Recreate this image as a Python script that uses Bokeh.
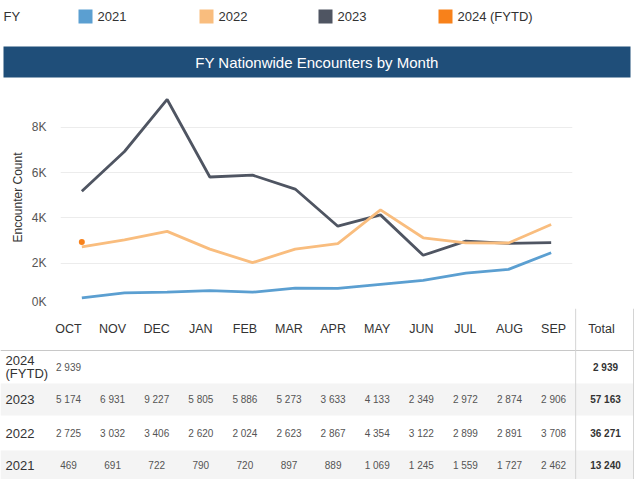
from bokeh.plotting import figure
from bokeh.models import Range1d, FixedTicker, ColumnDataSource
from bokeh.core.properties import value
from bokeh.embed import file_html
from bokeh.resources import INLINE

# ---- data -------------------------------------------------------------
months = ["OCT", "NOV", "DEC", "JAN", "FEB", "MAR", "APR", "MAY", "JUN", "JUL", "AUG", "SEP"]
fy2021 = [469, 691, 722, 790, 720, 897, 889, 1069, 1245, 1559, 1727, 2462]
fy2022 = [2725, 3032, 3406, 2620, 2024, 2623, 2867, 4354, 3122, 2899, 2891, 3708]
fy2023 = [5174, 6931, 9227, 5805, 5886, 5273, 3633, 4133, 2349, 2972, 2874, 2906]
fy2024 = [2939]

series_names = ["2021", "2022", "2023", "2024 (FYTD)"]
colors = {"2021": "#5b9fd1", "2022": "#f9bd7e", "2023": "#4f5562", "2024 (FYTD)": "#f8811a"}
y_ticks = [0, 2000, 4000, 6000, 8000]
y_tick_labels = ["0K", "2K", "4K", "6K", "8K"]

FONT = value("Liberation Sans")
W = 639


def fmt(v):
    return f"{v:,}".replace(",", " ")


def bare(fig):
    fig.xgrid.visible = False
    fig.ygrid.visible = False
    fig.outline_line_color = None
    return fig


# ---- header: legend + title bar ----------------------------------------
hdr_h = 82
hdr = figure(width=W, height=hdr_h, x_range=Range1d(0, W), y_range=Range1d(hdr_h, 0),
             output_backend="svg", toolbar_location=None, min_border=0,
             x_axis_location=None, y_axis_location=None)
bare(hdr)

hdr.text(x=[3], y=[16], text=["FY"], text_font=FONT, text_font_size="13px",
         text_color="#333333", text_baseline="middle")
legend_x = [78, 199, 318, 438]
hdr.rect(x=[lx + 7 for lx in legend_x], y=[16] * 4, width=14, height=14,
         fill_color=[colors[n] for n in series_names], line_color=None)
hdr.text(x=[lx + 19 for lx in legend_x], y=[16] * 4, text=series_names, text_font=FONT,
         text_font_size="13px", text_color="#333333", text_baseline="middle")

hdr.quad(left=[3], right=[630], top=[46], bottom=[77], fill_color="#1f4e79", line_color=None)
hdr.text(x=[316.5], y=[62], text=["FY Nationwide Encounters by Month"], text_font=FONT,
         text_font_size="15px", text_color="white", text_align="center", text_baseline="middle")

# ---- line chart ---------------------------------------------------------
xs = list(range(len(months)))
chart_h, chart_top, y_max = 226, 4, 9800
chart = figure(width=W, height=chart_h, x_range=Range1d(-0.5, len(months) - 0.5),
               y_range=Range1d(0, y_max), output_backend="svg", toolbar_location=None,
               min_border_left=60, min_border_right=67, min_border_top=chart_top, min_border_bottom=0)
chart.xaxis.visible = False
chart.outline_line_color = None
chart.xgrid.visible = False
chart.ygrid.ticker = FixedTicker(ticks=y_ticks)
chart.ygrid.grid_line_color = "#ececec"

# the zero label sits a few pixels above the bottom edge so it stays inside the canvas
units_per_px = y_max / (chart_h - chart_top)
zero_label_pos = 7 * units_per_px
label_pos = [zero_label_pos] + y_ticks[1:]

ax = chart.yaxis[0]
ax.ticker = FixedTicker(ticks=label_pos)
ax.major_label_overrides = {t: l for t, l in zip(label_pos, y_tick_labels)}
ax.axis_line_color = None
ax.major_tick_line_color = None
ax.minor_tick_line_color = None
ax.major_label_standoff = 8
ax.major_label_text_font = "Liberation Sans"
ax.major_label_text_font_size = "12px"
ax.major_label_text_color = "#555555"
ax.axis_label = "Encounter Count"
ax.axis_label_text_font = "Liberation Sans"
ax.axis_label_text_font_size = "12px"
ax.axis_label_text_font_style = "normal"
ax.axis_label_text_color = "#333333"
ax.axis_label_standoff = 4

for name, vals in [("2023", fy2023), ("2022", fy2022), ("2021", fy2021)]:
    chart.line(xs, vals, line_color=colors[name], line_width=2.8)
chart.scatter(xs[:len(fy2024)], fy2024, size=6, fill_color=colors["2024 (FYTD)"], line_color=None)

# ---- table ----------------------------------------------------------------
tbl_h = 171
tbl = figure(width=W, height=tbl_h, x_range=Range1d(0, W), y_range=Range1d(tbl_h, 0),
             output_backend="svg", toolbar_location=None, min_border=0,
             x_axis_location=None, y_axis_location=None)
bare(tbl)

col0, col_step, total_x, right_edge = 68, 44.1, 601, 633
col_x = [col0 + i * col_step for i in range(len(months))]
sep_x = col0 + (len(months) - 0.5) * col_step

rows = [("2024\n(FYTD)", fy2024, 42, 75), ("2023", fy2023, 75, 107),
        ("2022", fy2022, 107, 142), ("2021", fy2021, 142, 171)]

# striped row backgrounds
tbl.quad(left=[0, 0], right=[right_edge, right_edge], top=[rows[1][2], rows[3][2]],
         bottom=[rows[1][3], rows[3][3]], fill_color="#f4f4f4", line_color=None)

# header
tbl.text(x=col_x + [total_x], y=[20] * (len(months) + 1), text=months + ["Total"], text_font=FONT,
         text_font_size="12.5px", text_color="#333333", text_align="center", text_baseline="middle")
tbl.segment(x0=[0], y0=[42], x1=[right_edge], y1=[42], line_color="#c8c8c8", line_width=1)
tbl.segment(x0=[sep_x, right_edge], y0=[0, 0], x1=[sep_x, right_edge], y1=[tbl_h, tbl_h],
            line_color="#d4d4d4", line_width=1)

for label, vals, top, bottom in rows:
    yc = (top + bottom) / 2
    tbl.text(x=[5], y=[yc], text=[label], text_font=FONT, text_font_size="13px",
             text_color="#333333", text_baseline="middle", text_line_height=0.85)
    src = ColumnDataSource(dict(x=col_x[:len(vals)], y=[yc] * len(vals), t=[fmt(v) for v in vals]))
    tbl.text(x="x", y="y", text="t", source=src, text_font=FONT, text_font_size="10px",
             text_color="#555555", text_align="center", text_baseline="middle")
    tbl.text(x=[total_x + 4], y=[yc], text=[fmt(sum(vals))], text_font=FONT, text_font_size="10px",
             text_font_style="bold", text_color="#333333", text_align="center", text_baseline="middle")

# separate roots stack vertically without their frames being aligned to each other
open("out.html", "w").write(file_html([hdr, chart, tbl], INLINE))
